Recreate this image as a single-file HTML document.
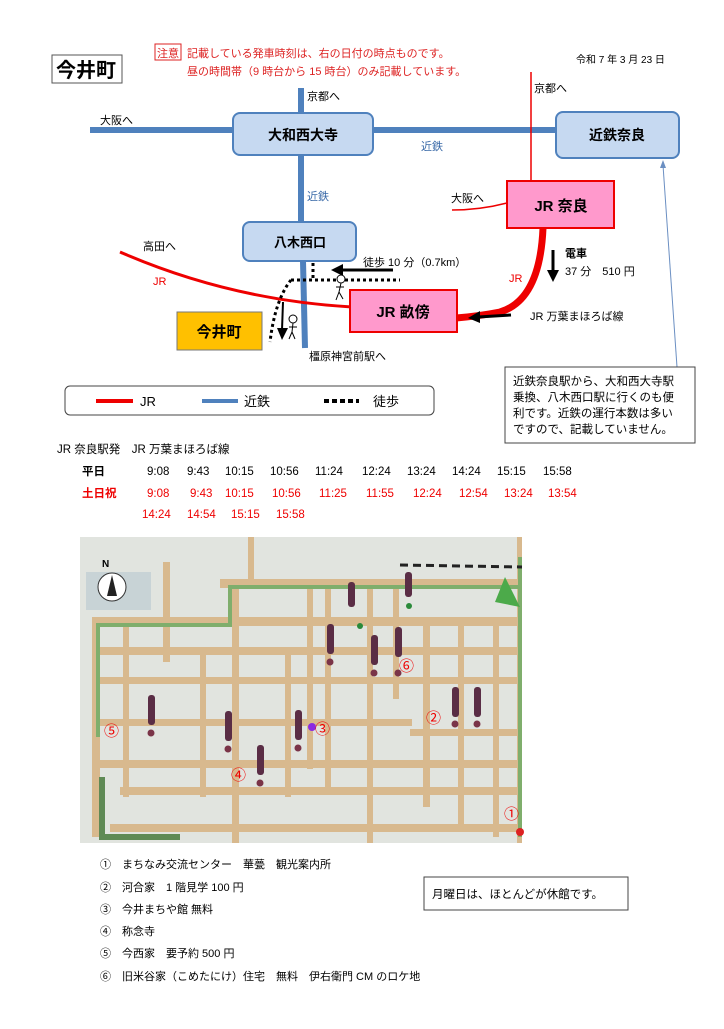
<!DOCTYPE html>
<html><head><meta charset="utf-8"><style>
body{margin:0;background:#fff;width:724px;height:1024px;overflow:hidden;font-family:"Liberation Sans","Noto Sans CJK JP",sans-serif}
svg text{font-family:"Liberation Sans","Noto Sans CJK JP",sans-serif}
</style></head><body>
<svg width="724" height="1024" viewBox="0 0 724 1024" xmlns="http://www.w3.org/2000/svg">
<rect x="52" y="55" width="70" height="28" fill="none" stroke="#555" stroke-width="1"/>
<text x="56" y="77" font-size="20" font-weight="bold">今井町</text>
<rect x="155" y="44" width="26" height="16" fill="none" stroke="#d22" stroke-width="1"/>
<text x="157" y="57" font-size="11" fill="#d22">注意</text>
<text x="187" y="57" font-size="11" fill="#d22">記載している発車時刻は、右の日付の時点ものです。</text>
<text x="187" y="75" font-size="11" fill="#d22">昼の時間帯（9 時台から 15 時台）のみ記載しています。</text>
<text x="576" y="63" font-size="10">令和 7 年 3 月 23 日</text>

<line x1="90" y1="130" x2="556" y2="130" stroke="#4f81bd" stroke-width="6"/>
<line x1="301" y1="88" x2="301" y2="222" stroke="#4f81bd" stroke-width="6"/>
<line x1="303" y1="261" x2="305" y2="348" stroke="#4f81bd" stroke-width="6"/>
<text x="307" y="100" font-size="11">京都へ</text>
<text x="100" y="124" font-size="11">大阪へ</text>
<text x="421" y="150" font-size="11" fill="#3a6aa8">近鉄</text>
<text x="307" y="200" font-size="11" fill="#3a6aa8">近鉄</text>
<rect x="233" y="113" width="140" height="42" rx="7" fill="#c6d9f1" stroke="#4f81bd" stroke-width="2"/>
<text x="303" y="140" font-size="14" font-weight="bold" text-anchor="middle">大和西大寺</text>
<rect x="556" y="112" width="123" height="46" rx="7" fill="#c6d9f1" stroke="#4f81bd" stroke-width="2"/>
<text x="617" y="140" font-size="14" font-weight="bold" text-anchor="middle">近鉄奈良</text>
<rect x="243" y="222" width="113" height="39" rx="7" fill="#c6d9f1" stroke="#4f81bd" stroke-width="2"/>
<text x="300" y="247" font-size="13" font-weight="bold" text-anchor="middle">八木西口</text>

<line x1="531" y1="72" x2="531" y2="182" stroke="#e00" stroke-width="1.5"/>
<text x="534" y="92" font-size="11">京都へ</text>
<path d="M452 210 Q480 210 507 203" stroke="#e00" stroke-width="1.5" fill="none"/>
<text x="451" y="202" font-size="11">大阪へ</text>
<path d="M120 252 Q230 300 352 307" stroke="#e00" stroke-width="3" fill="none"/>
<text x="143" y="250" font-size="11">高田へ</text>
<text x="153" y="285" font-size="11" fill="#e00">JR</text>
<path d="M543 228 Q540 300 500 312 Q480 316 456 318" stroke="#e00" stroke-width="7" fill="none"/>
<text x="509" y="282" font-size="11" fill="#e00">JR</text>
<rect x="507" y="181" width="107" height="47" fill="#ff99cc" stroke="#e00" stroke-width="2"/>
<text x="561" y="211" font-size="15" font-weight="bold" text-anchor="middle">JR 奈良</text>
<rect x="350" y="290" width="107" height="42" fill="#ff99cc" stroke="#e00" stroke-width="2"/>
<text x="403" y="317" font-size="15" font-weight="bold" text-anchor="middle">JR 畝傍</text>

<line x1="553" y1="250" x2="553" y2="272" stroke="#000" stroke-width="3"/>
<polygon points="547,270 559,270 553,282" fill="#000"/>
<text x="565" y="257" font-size="11" font-weight="bold">電車</text>
<text x="565" y="275" font-size="11">37 分　510 円</text>
<line x1="478" y1="317" x2="511" y2="315" stroke="#000" stroke-width="3"/>
<polygon points="480,311 480,323 468,318" fill="#000"/>
<text x="530" y="320" font-size="11">JR 万葉まほろば線</text>
<line x1="342" y1="270" x2="393" y2="270" stroke="#000" stroke-width="3"/>
<polygon points="343,264 343,276 331,270" fill="#000"/>
<text x="363" y="266" font-size="11">徒歩 10 分（0.7km）</text>

<line x1="313" y1="263" x2="313" y2="280" stroke="#000" stroke-width="3" stroke-dasharray="3,3"/>
<line x1="291" y1="280" x2="400" y2="280" stroke="#000" stroke-width="3" stroke-dasharray="3,3"/>
<path d="M291 280 Q275 300 270 342" stroke="#000" stroke-width="3" fill="none" stroke-dasharray="3,3"/>
<line x1="283" y1="302" x2="282" y2="330" stroke="#000" stroke-width="2"/>
<polygon points="277,328 288,328 282,340" fill="#000"/>
<g stroke="#000" stroke-width="1" fill="none">
<circle cx="341" cy="279" r="4" fill="#fff"/><path d="M341 283 L339 292 M336 287 L344 287 M339 292 L336 300 M339 292 L343 299"/>
<circle cx="293" cy="319" r="4" fill="#fff"/><path d="M293 323 L292 332 M289 327 L297 327 M292 332 L289 339 M292 332 L295 339"/>
</g>
<rect x="177" y="312" width="85" height="38" fill="#ffc000" stroke="#777"/>
<text x="219" y="337" font-size="15" font-weight="bold" text-anchor="middle">今井町</text>
<text x="309" y="360" font-size="11">橿原神宮前駅へ</text>

<rect x="65" y="386" width="369" height="29" rx="5" fill="#fff" stroke="#444"/>
<line x1="96" y1="401" x2="133" y2="401" stroke="#e00" stroke-width="4"/>
<text x="140" y="406" font-size="13">JR</text>
<line x1="202" y1="401" x2="238" y2="401" stroke="#4f81bd" stroke-width="4"/>
<text x="244" y="406" font-size="13">近鉄</text>
<line x1="324" y1="401" x2="359" y2="401" stroke="#000" stroke-width="4" stroke-dasharray="5,3"/>
<text x="373" y="406" font-size="13">徒歩</text>

<line x1="663" y1="165" x2="677" y2="367" stroke="#6b8fc2" stroke-width="1"/>
<polygon points="660,168 666,168 663,160" fill="#6b8fc2"/>
<rect x="505" y="367" width="190" height="76" fill="#fff" stroke="#444"/>
<text x="513" y="385" font-size="11.5">近鉄奈良駅から、大和西大寺駅</text>
<text x="513" y="401" font-size="11.5">乗換、八木西口駅に行くのも便</text>
<text x="513" y="417" font-size="11.5">利です。近鉄の運行本数は多い</text>
<text x="513" y="433" font-size="11.5">ですので、記載していません。</text>

<g font-size="11.5">
<text x="57" y="453">JR  奈良駅発　JR 万葉まほろば線</text>
<text x="82" y="475" font-weight="bold">平日</text>
<g><text x="147" y="475">9:08</text><text x="187" y="475">9:43</text><text x="225" y="475">10:15</text><text x="270" y="475">10:56</text><text x="315" y="475">11:24</text><text x="362" y="475">12:24</text><text x="407" y="475">13:24</text><text x="452" y="475">14:24</text><text x="497" y="475">15:15</text><text x="543" y="475">15:58</text></g>
<g fill="#e00"><text x="82" y="497" font-weight="bold">土日祝</text>
<text x="147" y="497">9:08</text><text x="190" y="497">9:43</text><text x="225" y="497">10:15</text><text x="272" y="497">10:56</text><text x="319" y="497">11:25</text><text x="366" y="497">11:55</text><text x="413" y="497">12:24</text><text x="459" y="497">12:54</text><text x="504" y="497">13:24</text><text x="548" y="497">13:54</text>
<text x="142" y="518">14:24</text><text x="187" y="518">14:54</text><text x="231" y="518">15:15</text><text x="276" y="518">15:58</text></g>
</g>

<g transform="translate(80,537)">
<rect x="0" y="0" width="442" height="306" fill="#e1e4df"/>
<g fill="#d8b98e">
<rect x="12" y="80" width="430" height="9"/>
<rect x="140" y="42" width="300" height="9"/>
<rect x="12" y="110" width="430" height="8"/>
<rect x="12" y="140" width="430" height="7"/>
<rect x="12" y="182" width="320" height="7"/>
<rect x="330" y="192" width="112" height="7"/>
<rect x="18" y="223" width="424" height="8"/>
<rect x="40" y="250" width="402" height="8"/>
<rect x="30" y="287" width="412" height="8"/>
<rect x="12" y="80" width="8" height="220"/>
<rect x="43" y="80" width="6" height="180"/>
<rect x="83" y="25" width="7" height="100"/>
<rect x="120" y="110" width="6" height="150"/>
<rect x="152" y="42" width="7" height="264"/>
<rect x="205" y="110" width="6" height="150"/>
<rect x="227" y="42" width="6" height="190"/>
<rect x="245" y="42" width="6" height="210"/>
<rect x="287" y="42" width="6" height="264"/>
<rect x="313" y="42" width="6" height="120"/>
<rect x="343" y="80" width="7" height="190"/>
<rect x="378" y="80" width="6" height="215"/>
<rect x="413" y="80" width="6" height="220"/>
<rect x="437" y="0" width="5" height="306"/>
<rect x="168" y="0" width="6" height="50"/>
</g>
<g fill="none" stroke="#7fae6c" stroke-width="4">
<path d="M18 200 V88 H150 V50 H440"/><path d="M440 20 V300"/>
</g>
<path d="M22 240 V300 H100" fill="none" stroke="#5f8a55" stroke-width="6"/>
<rect x="6" y="35" width="65" height="38" fill="#c8d3d6"/>
<circle cx="32" cy="50" r="14" fill="#fff" stroke="#333"/>
<polygon points="32,38 27,59 37,59" fill="#222"/>
<text x="22" y="30" font-size="10" font-weight="bold">N</text>
<line x1="320" y1="28" x2="442" y2="30" stroke="#222" stroke-width="3" stroke-dasharray="8,5"/>
<polygon points="425,40 415,65 440,70" fill="#4caa4a"/>
<g fill="#5a2d45">
<rect x="68" y="158" width="7" height="30" rx="3"/><rect x="145" y="174" width="7" height="30" rx="3"/><rect x="177" y="208" width="7" height="30" rx="3"/><rect x="215" y="173" width="7" height="30" rx="3"/><rect x="247" y="87" width="7" height="30" rx="3"/><rect x="291" y="98" width="7" height="30" rx="3"/><rect x="315" y="90" width="7" height="30" rx="3"/><rect x="372" y="150" width="7" height="30" rx="3"/><rect x="394" y="150" width="7" height="30" rx="3"/><rect x="325" y="35" width="7" height="25" rx="3"/><rect x="268" y="45" width="7" height="25" rx="3"/>
</g>
<g fill="#7a3448">
<circle cx="71" cy="196" r="3.5"/><circle cx="148" cy="212" r="3.5"/><circle cx="180" cy="246" r="3.5"/><circle cx="218" cy="211" r="3.5"/><circle cx="250" cy="125" r="3.5"/><circle cx="294" cy="136" r="3.5"/><circle cx="318" cy="136" r="3.5"/><circle cx="375" cy="187" r="3.5"/><circle cx="397" cy="187" r="3.5"/>
</g>
<circle cx="329" cy="69" r="3" fill="#2a8a3a"/><circle cx="280" cy="89" r="3" fill="#2a8a3a"/>
<circle cx="232" cy="190" r="4" fill="#8a2be2"/>
<circle cx="440" cy="295" r="4" fill="#d22"/>
<g fill="#e00" font-size="15">
<text x="24" y="199">⑤</text><text x="235" y="197">③</text><text x="319" y="134">⑥</text><text x="346" y="186">②</text><text x="151" y="243">④</text><text x="424" y="282">①</text>
</g>
</g>

<g font-size="11">
<text x="100" y="868">①　まちなみ交流センター　華甍　観光案内所</text>
<text x="100" y="891">②　河合家　1 階見学 100 円</text>
<text x="100" y="913">③　今井まちや館  無料</text>
<text x="100" y="935">④　称念寺</text>
<text x="100" y="957">⑤　今西家　要予約 500 円</text>
<text x="100" y="980">⑥　旧米谷家（こめたにけ）住宅　無料　伊右衛門 CM のロケ地</text>
</g>
<rect x="424" y="877" width="204" height="33" fill="#fff" stroke="#444"/>
<text x="432" y="898" font-size="11.5">月曜日は、ほとんどが休館です。</text>
</svg>
</body></html>
